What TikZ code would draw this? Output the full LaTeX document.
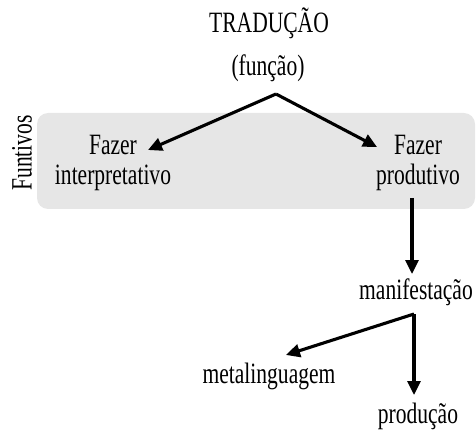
\documentclass[tikz,border=0pt]{standalone}
\usepackage{fontspec}
\setmainfont{Liberation Serif}[FakeStretch=0.73]
\usetikzlibrary{arrows.meta}
\definecolor{panelgray}{RGB}{230,230,230}
\begin{document}
\begin{tikzpicture}[x=1pt,y=-1pt,
  lbl/.style={inner sep=0pt,font=\fontsize{29.5}{34}\selectfont},
  conn/.style={line width=3.1pt,-{Triangle[length=14pt,width=13pt]}}]
\useasboundingbox (0,0) rectangle (476,430);
% shaded band holding the two functives
\fill[panelgray,rounded corners=11pt] (37,113) rectangle (475,209);
\node[lbl,rotate=90] (fun) at (22,153) {Funtivos};
% labels
\node[lbl,anchor=base] (trad) at (269,33) {TRADUÇÃO};
\node[lbl,anchor=base] (func) at (268,76) {(função)};
\node[lbl,anchor=base] (fi1) at (113,155) {Fazer};
\node[lbl,anchor=base] (fi2) at (113,185) {interpretativo};
\node[lbl,anchor=base] (fp1) at (418,155) {Fazer};
\node[lbl,anchor=base] (fp2) at (418,185) {produtivo};
\node[lbl,anchor=base] (man) at (416,299) {manifestação};
\node[lbl,anchor=base] (meta) at (269,383) {metalinguagem};
\node[lbl,anchor=base] (prod) at (418,423) {produção};
% branching points and arrow ends
\coordinate (apex) at (276,94);
\coordinate (fiend) at (148,150);
\coordinate (fpend) at (377,147);
\coordinate (fpout) at (412,198);
\coordinate (manin) at (412,274);
\coordinate (fork) at (414,314);
\coordinate (metaend) at (286,355);
\coordinate (prodend) at (414,395);
% connectors
\draw[conn] (apex) -- (fiend);
\draw[conn] (apex) -- (fpend);
\draw[conn] (fpout) -- (manin);
\draw[conn] (fork) -- (metaend);
\draw[conn] (fork) -- (prodend);
\end{tikzpicture}
\end{document}
